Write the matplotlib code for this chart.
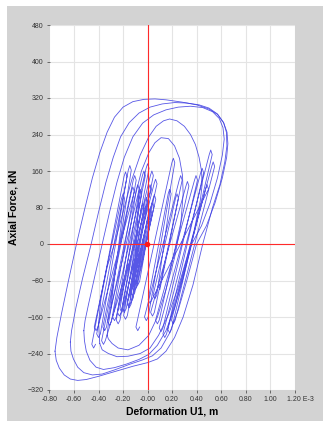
import matplotlib
matplotlib.use("Agg")
import matplotlib.pyplot as plt
import matplotlib.transforms as mtransforms
from matplotlib.patches import Rectangle

plt.rcParams['font.family'] = ['Liberation Sans', 'DejaVu Sans']

# x in 1E-3 m, y in kN
loop1_x = [-0.755, -0.74, -0.70, -0.645, -0.58, -0.51, -0.45, -0.39, -0.33, -0.27, -0.20, -0.12, -0.03, 0.06,
           0.15, 0.28, 0.40, 0.50, 0.57, 0.62, 0.643, 0.647, 0.63, 0.59, 0.53, 0.45, 0.37, 0.29, 0.22, 0.15,
           0.08, 0.0, -0.12, -0.26, -0.40, -0.50, -0.57, -0.63, -0.68, -0.72, -0.745, -0.755]
loop1_y = [-235, -205, -150, -80, 0, 80, 145, 200, 245, 278, 300, 312, 317, 318,
           316, 311, 305, 296, 284, 266, 245, 215, 180, 130, 80, 0, -90, -160, -205, -235,
           -252, -260, -268, -279, -290, -297, -299, -296, -287, -272, -255, -235]

loop2_x = [-0.63, -0.62, -0.585, -0.53, -0.46, -0.40, -0.34, -0.28, -0.22, -0.15, -0.07, 0.02, 0.12, 0.22,
           0.32, 0.42, 0.50, 0.57, 0.62, 0.648, 0.655, 0.645, 0.61, 0.55, 0.48, 0.40, 0.32, 0.25, 0.18,
           0.11, 0.04, -0.04, -0.15, -0.27, -0.37, -0.45, -0.52, -0.57, -0.605, -0.625, -0.63]
loop2_y = [-215, -190, -140, -75, 0, 70, 135, 190, 235, 266, 287, 300, 307, 310,
           309, 305, 298, 285, 266, 245, 220, 190, 145, 90, 40, 0, -80, -145, -195,
           -228, -245, -254, -264, -276, -285, -287, -282, -270, -252, -235, -215]

loop3_x = [-0.52, -0.51, -0.48, -0.43, -0.37, -0.31, -0.25, -0.19, -0.12, -0.04, 0.05, 0.15, 0.25, 0.35,
           0.45, 0.53, 0.585, 0.615, 0.625, 0.61, 0.57, 0.51, 0.44, 0.36, 0.29, 0.22, 0.15, 0.08,
           0.01, -0.07, -0.17, -0.27, -0.36, -0.42, -0.47, -0.50, -0.515, -0.52]
loop3_y = [-190, -168, -130, -70, 0, 70, 135, 190, 235, 265, 283, 294, 300, 302,
           299, 290, 275, 255, 230, 195, 145, 90, 40, 0, -75, -140, -190, -222,
           -242, -253, -263, -271, -275, -270, -255, -235, -212, -190]

loop4_x = [-0.39, -0.40, -0.38, -0.33, -0.27, -0.20, -0.13, -0.06, 0.01, 0.07, 0.13, 0.18, 0.24, 0.30,
           0.35, 0.39, 0.42, 0.44, 0.445, 0.43, 0.38, 0.32, 0.25, 0.17, 0.09, 0.02, -0.06, -0.16,
           -0.25, -0.32, -0.37, -0.39]
loop4_y = [-218, -175, -120, -50, 0, 70, 140, 195, 235, 258, 270, 274, 270, 258,
           240, 218, 190, 160, 130, 95, 30, -30, -95, -155, -200, -228, -240, -246,
           -247, -240, -232, -218]

loop5_x = [-0.33, -0.32, -0.29, -0.25, -0.19, -0.12, -0.05, 0.01, 0.06, 0.11, 0.17, 0.22, 0.26, 0.285,
           0.29, 0.27, 0.22, 0.15, 0.08, 0.01, -0.07, -0.16, -0.24, -0.29, -0.32, -0.33]
loop5_y = [-200, -175, -130, -80, 0, 85, 160, 200, 222, 233, 231, 215, 188, 150,
           110, 40, -30, -100, -160, -200, -222, -232, -228, -218, -208, -200]

# narrow inner cycles, left / centre group
inner_x = [-0.425, -0.44, -0.455, -0.192, -0.18, -0.168,
           -0.385, -0.40, -0.415, -0.157, -0.145, -0.133,
           -0.335, -0.35, -0.365, -0.117, -0.105, -0.093,
           -0.295, -0.31, -0.325, -0.042, -0.03, -0.018,
           -0.255, -0.27, -0.285, -0.012, 0.0, 0.012,
           -0.215, -0.23, -0.245, 0.023, 0.035, 0.047,
           -0.175, -0.19, -0.205, 0.053, 0.065, 0.077,
           -0.135, -0.15, -0.165, 0.043, 0.055, 0.067,
           -0.105, -0.12, -0.135, 0.028, 0.04, 0.052,
           -0.085, -0.10, -0.115, 0.008, 0.02, 0.032,
           -0.065, -0.08, -0.095, -0.002, 0.01, 0.022,
           -0.135, -0.15, -0.165, -0.022, -0.01, 0.002,
           -0.165, -0.18, -0.195, -0.052, -0.04, -0.028,
           -0.195, -0.21, -0.225, -0.072, -0.06, -0.048,
           -0.225, -0.24, -0.255, -0.092, -0.08, -0.068,
           -0.115, -0.13, -0.145, 0.008, 0.02, 0.032,
           -0.345, -0.36, -0.375, -0.132, -0.12, -0.108,
           -0.405, -0.42, -0.435, -0.212, -0.20, -0.188,
           -0.30]
inner_y = [-220, -228, -220, 148, 158, 148,
           -197, -205, -197, 162, 172, 162,
           -182, -190, -182, 140, 150, 140,
           -170, -178, -170, 150, 160, 150,
           -160, -168, -160, 166, 176, 166,
           -150, -158, -150, 150, 160, 150,
           -142, -150, -142, 132, 142, 132,
           -127, -135, -127, 98, 108, 98,
           -107, -115, -107, 82, 92, 82,
           -92, -100, -92, 68, 78, 68,
           -82, -90, -82, 52, 62, 52,
           -132, -140, -132, 92, 102, 92,
           -157, -165, -157, 78, 88, 78,
           -142, -150, -142, 110, 120, 110,
           -167, -175, -167, 120, 130, 120,
           -117, -125, -117, 120, 130, 120,
           -212, -220, -212, 115, 125, 115,
           -182, -190, -182, 100, 110, 100,
           -140]

# narrow inner cycles, right group
outer_x = [-0.065, -0.08, -0.095, 0.198, 0.21, 0.222,
           0.005, -0.01, -0.025, 0.258, 0.27, 0.282,
           0.055, 0.04, 0.025, 0.313, 0.325, 0.337,
           0.095, 0.08, 0.065, 0.383, 0.395, 0.407,
           0.125, 0.11, 0.095, 0.433, 0.445, 0.457,
           0.155, 0.14, 0.125, 0.503, 0.515, 0.527,
           0.195, 0.18, 0.165, 0.523, 0.535, 0.547,
           0.225, 0.21, 0.195, 0.473, 0.485, 0.497,
           0.035, 0.02, 0.005, 0.168, 0.18, 0.192,
           0.075, 0.06, 0.045, 0.228, 0.24, 0.252,
           0.10]
outer_y = [-182, -190, -182, 178, 188, 178,
           -160, -168, -160, 140, 150, 140,
           -150, -158, -150, 127, 137, 127,
           -167, -175, -167, 140, 150, 140,
           -184, -192, -184, 156, 166, 156,
           -197, -205, -197, 196, 206, 196,
           -187, -195, -187, 170, 180, 170,
           -167, -175, -167, 120, 130, 120,
           -122, -130, -122, 110, 120, 110,
           -112, -120, -112, 100, 110, 100,
           -100]

loops = [(loop1_x, loop1_y), (loop2_x, loop2_y), (loop3_x, loop3_y), (loop4_x, loop4_y),
         (loop5_x, loop5_y), (inner_x, inner_y), (outer_x, outer_y)]

x_ticks = [-0.8, -0.6, -0.4, -0.2, 0.0, 0.2, 0.4, 0.6, 0.8, 1.0, 1.2]
x_labels = ['-0.80', '-0.60', '-0.40', '-0.20', '-0.00', '0.20', '0.40', '0.60', '0.80', '1.00', '1.20 E-3']
y_ticks = [-320, -240, -160, -80, 0, 80, 160, 240, 320, 400, 480]

fig = plt.figure(figsize=(3.23, 4.21), dpi=100, facecolor='#d3d3d3')
fig.patches.append(Rectangle((0, 1 - 6 / 421), 1, 6 / 421, transform=fig.transFigure,
                             facecolor='white', edgecolor='none'))
fig.patches.append(Rectangle((0, 0), 7 / 323, 1, transform=fig.transFigure,
                             facecolor='white', edgecolor='none'))

ax = fig.add_axes([49.5 / 323, 31 / 421, 245.2 / 323, 365 / 421])
ax.set_facecolor('white')

for lx, ly in loops:
    ax.plot(lx, ly, color='#3a3ae2', lw=0.6, alpha=0.85)

ax.axvline(0, color='#ff2a2a', lw=0.8)
ax.axhline(0, color='#ff2a2a', lw=0.8)
ax.plot([-0.005], [0], 'o', color='#ff1a1a', ms=3)

ax.set_xlim(-0.8, 1.2)
ax.set_ylim(-320, 480)
ax.set_xticks(x_ticks)
ax.set_xticklabels(x_labels)
ax.set_yticks(y_ticks)
ax.grid(True, color='#e4e4e4', lw=0.8)
ax.set_axisbelow(True)
for s in ax.spines.values():
    s.set_visible(False)
ax.tick_params(length=2.5, width=0.6, color='#555555', labelsize=5, labelcolor='#333333', pad=2)

# last x label: "1.20" centred on its tick, "E-3" running on to the right
last = ax.get_xticklabels()[-1]
last.set_ha('left')
last.set_transform(last.get_transform() + mtransforms.ScaledTranslation(-5.5 / 72, 0, fig.dpi_scale_trans))

ax.set_xlabel('Deformation U1, m', fontsize=7.5, fontweight='bold', labelpad=2)
ax.set_ylabel('Axial Force, kN', fontsize=7.5, fontweight='bold', labelpad=6)

fig.savefig('out.png', dpi=100, facecolor=fig.get_facecolor())
